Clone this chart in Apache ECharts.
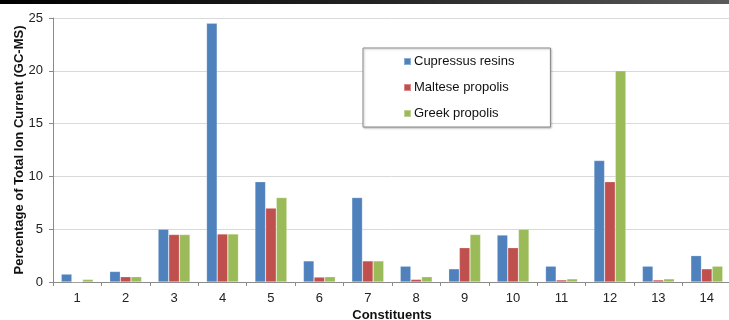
<!DOCTYPE html>
<html>
<head>
<meta charset="utf-8">
<script src="https://cdn.jsdelivr.net/npm/echarts@6/dist/echarts.min.js"></script>
<style>
html,body{margin:0;padding:0;background:#fff;}
#chart{width:729px;height:320px;}
</style>
</head>
<body>
<div id="chart"></div>
<script>
var categories = ['1','2','3','4','5','6','7','8','9','10','11','12','13','14'];
var cupressus = [0.75, 1.0, 5.0, 24.5, 9.5, 2.0, 8.0, 1.5, 1.25, 4.45, 1.5, 11.5, 1.5, 2.5];
var maltese   = [0, 0.5, 4.5, 4.55, 7.0, 0.47, 2.0, 0.25, 3.25, 3.25, 0.2, 9.5, 0.2, 1.25];
var greek     = [0.25, 0.5, 4.5, 4.55, 8.0, 0.5, 2.0, 0.5, 4.5, 5.0, 0.3, 20.0, 0.3, 1.5];
var seriesNames = ['Cupressus resins', 'Maltese propolis', 'Greek propolis'];
var yTicks = {min: 0, max: 25, interval: 5};

var FONT = 'Liberation Sans, Arial, sans-serif';
var chart = echarts.init(document.getElementById('chart'), null, {renderer: 'canvas'});
function bar(name, data, color) {
  return {
    name: name, type: 'bar', data: data,
    barGap: '0%', barCategoryGap: '34%',
    itemStyle: {color: color, borderColor: 'rgba(255,255,255,0.35)', borderWidth: 0.6},
    emphasis: {disabled: true}
  };
}
chart.setOption({
  animation: false,
  textStyle: {fontFamily: FONT},
  graphic: [{
    type: 'rect', left: 0, top: 0, z: 100,
    shape: {width: 729, height: 4},
    style: {fill: new echarts.graphic.LinearGradient(0, 0, 1, 0, [
      {offset: 0, color: '#000000'}, {offset: 0.5, color: '#222222'}, {offset: 1, color: '#5a5a5a'}
    ])}
  }],
  legend: {
    orient: 'vertical', left: 363, top: 48,
    data: seriesNames,
    itemWidth: 7, itemHeight: 7, itemGap: 13,
    icon: 'rect',
    padding: [7, 36, 7, 40],
    borderColor: '#8a8a8a', borderWidth: 1,
    backgroundColor: '#fff',
    shadowColor: 'rgba(0,0,0,0.25)', shadowBlur: 2, shadowOffsetX: 1, shadowOffsetY: 1,
    textStyle: {fontFamily: FONT, fontSize: 13, color: '#111', padding: [0, 0, 0, -2]}
  },
  grid: {left: 53, right: -2, top: 18, bottom: 38, containLabel: false, outerBoundsMode: 'none'},
  xAxis: {
    type: 'category', data: categories,
    name: 'Constituents', nameLocation: 'middle', nameGap: 27, nameMoveOverlap: false,
    nameTextStyle: {fontFamily: FONT, fontSize: 13, fontWeight: 'bold', color: '#111'},
    axisLine: {lineStyle: {color: '#8a8a8a'}},
    axisTick: {show: true, length: 4, lineStyle: {color: '#8a8a8a'}},
    axisLabel: {fontFamily: FONT, fontSize: 13, color: '#222', margin: 10}
  },
  yAxis: {
    type: 'value', min: yTicks.min, max: yTicks.max, interval: yTicks.interval,
    name: 'Percentage of Total Ion Current (GC-MS)', nameLocation: 'middle', nameGap: 27, nameMoveOverlap: false,
    nameTextStyle: {fontFamily: FONT, fontSize: 13, fontWeight: 'bold', color: '#111'},
    axisLine: {show: true, lineStyle: {color: '#8a8a8a'}},
    axisTick: {show: true, length: 4, lineStyle: {color: '#8a8a8a'}},
    axisLabel: {fontFamily: FONT, fontSize: 13, color: '#222', margin: 10},
    splitLine: {lineStyle: {color: '#d9d9d9'}}
  },
  series: [
    bar(seriesNames[0], cupressus, '#4f81bd'),
    bar(seriesNames[1], maltese, '#c0504d'),
    bar(seriesNames[2], greek, '#9bbb59')
  ]
});
</script>
</body>
</html>
